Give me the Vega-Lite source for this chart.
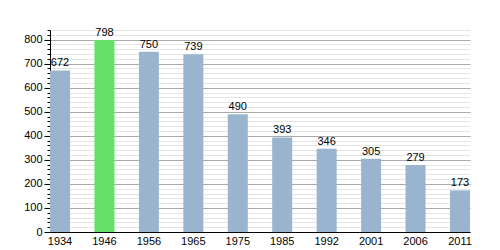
{
  "$schema": "https://vega.github.io/schema/vega-lite/v6.json",
  "autosize": "none",
  "width": 420,
  "height": 202,
  "padding": {"left": 50, "top": 30, "right": 30, "bottom": 18},
  "background": "white",
  "config": {
    "view": {"stroke": null},
    "font": "Liberation Sans",
    "axis": {"labelFont": "Liberation Sans", "labelFontSize": 11, "labelColor": "black"}
  },
  "data": {
    "values": [
      {"year": "1934", "pop": 672, "hl": false},
      {"year": "1946", "pop": 798, "hl": true},
      {"year": "1956", "pop": 750, "hl": false},
      {"year": "1965", "pop": 739, "hl": false},
      {"year": "1975", "pop": 490, "hl": false},
      {"year": "1985", "pop": 393, "hl": false},
      {"year": "1992", "pop": 346, "hl": false},
      {"year": "2001", "pop": 305, "hl": false},
      {"year": "2006", "pop": 279, "hl": false},
      {"year": "2011", "pop": 173, "hl": false}
    ]
  },
  "encoding": {
    "x": {
      "field": "year", "type": "nominal", "sort": null,
      "scale": {"paddingInner": 0.55, "paddingOuter": 0},
      "axis": {"title": null, "labelAngle": 0, "ticks": false, "domainColor": "black", "labelPadding": 3, "grid": false}
    },
    "y": {
      "field": "pop", "type": "quantitative",
      "scale": {"domain": [0, 840], "nice": false},
      "axis": {
        "title": null,
        "values": [0,20,40,60,80,100,120,140,160,180,200,220,240,260,280,300,320,340,360,380,400,420,440,460,480,500,520,540,560,580,600,620,640,660,680,700,720,740,760,780,800,820,840],
        "labelExpr": "datum.value % 100 == 0 ? datum.label : ''",
        "grid": true,
        "gridColor": {"condition": {"test": "datum.value % 100 == 0", "value": "#aaaaaa"}, "value": "#e4e4e4"},
        "gridWidth": 1,
        "tickColor": "black",
        "tickSize": {"condition": {"test": "datum.value % 100 == 0", "value": 6}, "value": 3},
        "domainColor": "black",
        "labelPadding": 2
      }
    }
  },
  "layer": [
    {
      "mark": {"type": "bar"},
      "encoding": {
        "color": {
          "field": "hl", "type": "nominal",
          "scale": {"domain": [false, true], "range": ["#98b4cf", "#66e066"]},
          "legend": null
        }
      }
    },
    {
      "mark": {"type": "text", "baseline": "bottom", "dy": -2, "fontSize": 11, "color": "black", "font": "Liberation Sans"},
      "encoding": {"text": {"field": "pop", "type": "quantitative"}}
    }
  ]
}
